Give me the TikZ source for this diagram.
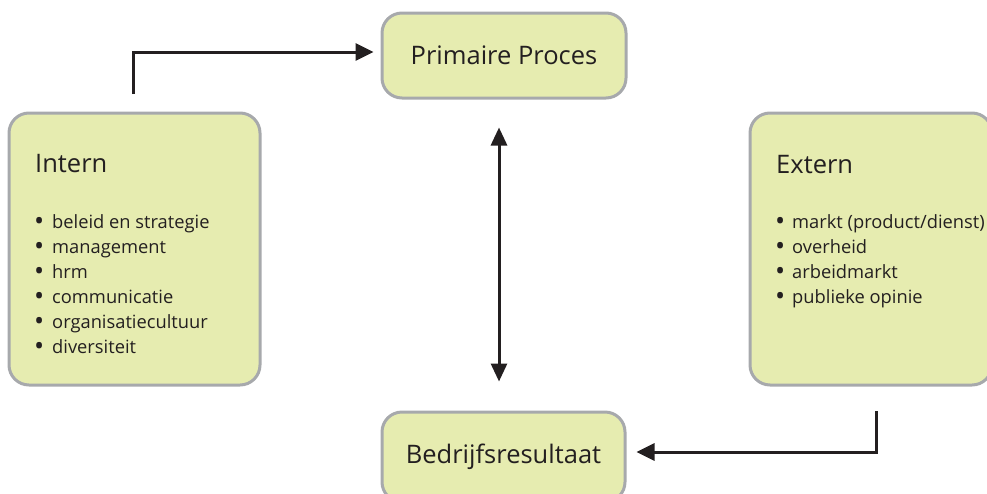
\documentclass[tikz,border=0pt]{standalone}
\usepackage{fontspec}
\setmainfont{Open Sans}
\usetikzlibrary{arrows.meta,calc}
\definecolor{boxfill}{RGB}{230,236,176}
\definecolor{boxline}{RGB}{167,169,172}
\definecolor{ink}{RGB}{35,31,32}
\tikzset{
  box/.style={draw=boxline, line width=3pt, fill=boxfill, rounded corners=20pt, inner sep=0pt},
  titletext/.style={text=ink, font=\fontsize{25.5}{28}\selectfont, inner sep=0pt, anchor=base west},
  itemtext/.style={text=ink, font=\fontsize{18.3}{22}\selectfont, inner sep=0pt, anchor=base west},
  bullettext/.style={text=ink, font=\fontsize{27}{28}\selectfont, inner sep=0pt, anchor=base west},
  bigtext/.style={text=ink, font=\fontsize{25.5}{28}\selectfont},
  arr/.style={draw=ink, line width=3pt, -{Triangle[length=18pt,width=17pt]}},
  darr/.style={draw=ink, line width=3pt, {Triangle[length=18pt,width=16pt]}-{Triangle[length=18pt,width=16pt]}}
}
\begin{document}
\begin{tikzpicture}[x=1pt,y=-1pt]
\useasboundingbox (0,0) rectangle (987,493);
\begin{scope}
\clip (0,0) rectangle (987,493);
% boxes
\node[box, minimum width=244pt, minimum height=85pt] (pp) at (504,55.5) {};
\node[bigtext] (pptext) at (504,55.5) {Primaire Proces};
\node[box, minimum width=243pt, minimum height=90pt] (br) at (503.5,457) {};
\node[bigtext, anchor=base] (brtext) at (503.5,463) {Bedrijfsresultaat};
\node[box, minimum width=251pt, minimum height=272pt] (intern) at (134.5,249) {};
\node[box, minimum width=242pt, minimum height=272pt] (extern) at (871,249) {};
\end{scope}
% Intern texts
\node[titletext] (it) at (35,172) {Intern};
\foreach \t [count=\i] in {beleid en strategie,management,hrm,communicatie,organisatiecultuur,diversiteit}{
  \node[bullettext] (ib\i) at (34,{230+25*(\i-1)}) {•};
  \node[itemtext] (ii\i) at (52,{228+25*(\i-1)}) {\t};
}
% Extern texts
\node[titletext] (et) at (776,173) {Extern};
\foreach \t [count=\i] in {markt (product/dienst),overheid,arbeidmarkt,publieke opinie}{
  \node[bullettext] (eb\i) at (775,{230+25*(\i-1)}) {•};
  \node[itemtext] (ei\i) at (792,{228+25*(\i-1)}) {\t};
}
% connectors
\coordinate (a1) at (133,94);
\coordinate (a2) at (133,52);
\draw[arr, shorten >=7pt] (a1) -- (a2) -- (pp.west |- a2);
\coordinate (v) at (499,0);
\draw[darr, shorten <=28pt, shorten >=29pt] (pp.south -| v) -- (br.north -| v);
\coordinate (b1) at (876,411);
\coordinate (b2) at (876,452);
\draw[arr, shorten >=10pt] (b1) -- (b2) -- (br.east |- b2);
\end{tikzpicture}
\end{document}
